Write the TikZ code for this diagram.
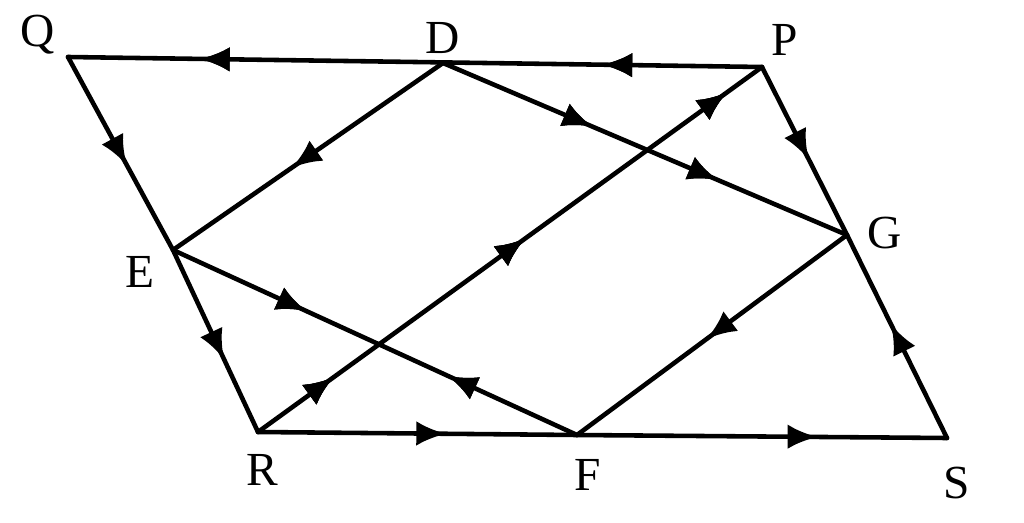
\documentclass[tikz,border=0pt]{standalone}
\usepackage{fontspec}
\setmainfont{Liberation Serif}
\usetikzlibrary{arrows.meta,decorations.markings}
\begin{document}
\begin{tikzpicture}[x=0.02cm,y=-0.02cm,
 ln/.style={line width=2.6pt,line cap=round,line join=round},
 m/.style={postaction={decorate},decoration={markings,mark=at position #1 with {\arrow{Latex[length=17pt,width=14pt]}}}},
 mr/.style={postaction={decorate},decoration={markings,mark=at position #1 with {\arrowreversed{Latex[length=17pt,width=14pt]}}}},
 lb/.style={font=\fontsize{27}{27}\selectfont}]
\useasboundingbox (0,0) rectangle (1024,523);
\coordinate (Q) at (68,57);
\coordinate (D) at (443,63);
\coordinate (P) at (762,67);
\coordinate (G) at (847,235);
\coordinate (S) at (947,438);
\coordinate (F) at (577,435);
\coordinate (R) at (258,432);
\coordinate (E) at (173,250);
\draw[ln,m=0.23,m=0.81] (P) -- (Q);
\draw[ln,m=0.56] (Q) -- (E);
\draw[ln,m=0.6] (E) -- (R);
\draw[ln,m=0.59] (R) -- (F);
\draw[ln,m=0.65] (F) -- (S);
\draw[ln,m=0.56] (S) -- (G);
\draw[ln,m=0.55] (P) -- (G);
\draw[ln,m=0.56] (D) -- (E);
\draw[ln,m=0.37,m=0.68] (D) -- (G);
\draw[ln,m=0.15,m=0.53,m=0.93] (R) -- (P);
\draw[ln,m=0.33,mr=0.68] (E) -- (F);
\draw[ln,m=0.52] (G) -- (F);
\node[lb] (lQ) at (38,35) {Q};
\node[lb] (lD) at (443,38) {D};
\node[lb] (lP) at (785,40) {P};
\node[lb] (lG) at (885,233) {G};
\node[lb] (lE) at (140,272) {E};
\node[lb] (lR) at (262,470) {R};
\node[lb] (lF) at (588,475) {F};
\node[lb] (lS) at (957,483) {S};
\end{tikzpicture}
\end{document}
